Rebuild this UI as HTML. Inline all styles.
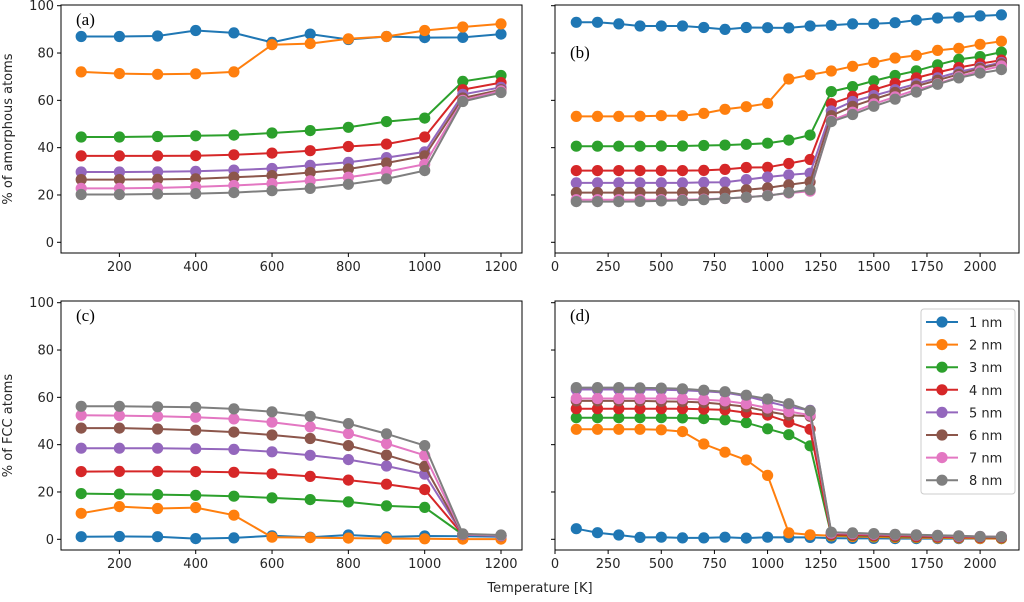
<!DOCTYPE html>
<html><head><meta charset="utf-8"><style>
html,body{margin:0;padding:0;background:#fff;}
svg{display:block;font-family:"DejaVu Sans","Liberation Sans",sans-serif;}
</style></head><body>
<svg id="fig" width="1024" height="602" viewBox="0 0 1024 602" xmlns="http://www.w3.org/2000/svg"></svg>
<script>
const colors=['#1f77b4','#ff7f0e','#2ca02c','#d62728','#9467bd','#8c564b','#e377c2','#7f7f7f'];
const seriesNames=['1 nm','2 nm','3 nm','4 nm','5 nm','6 nm','7 nm','8 nm'];
const tempsAC=[100,200,300,400,500,600,700,800,900,1000,1100,1200];
const tempsBD=[100,200,300,400,500,600,700,800,900,1000,1100,1200,1300,1400,1500,1600,1700,1800,1900,2000,2100];
const ticksAC=[200,400,600,800,1000,1200];
const ticksBD=[0,250,500,750,1000,1250,1500,1750,2000];
const ticksY=[0,20,40,60,80,100];
const amorphA=[
[87,87,87.2,89.5,88.5,84.5,88,85.7,87,86.5,86.6,88],
[72,71.3,71,71.2,72,83.5,84,86,87,89.5,91,92.3],
[44.5,44.5,44.7,45,45.3,46.2,47.2,48.6,51,52.5,68,70.5],
[36.5,36.5,36.5,36.6,37,37.7,38.7,40.5,41.5,44.5,64.5,67.5],
[29.7,29.7,29.8,30,30.5,31.2,32.5,33.8,35.8,38.2,62.5,65.5],
[26.5,26.5,26.6,26.8,27.5,28.2,29.5,31,33.5,36.5,61,64.5],
[22.8,22.8,23,23.4,24,24.8,26,27.5,29.8,33,60,64],
[20.2,20.2,20.4,20.6,21,21.8,22.8,24.5,26.8,30.3,59.5,63.3]];
const amorphB=[
[93,93,92.3,91.4,91.4,91.4,90.8,90,90.8,90.7,90.6,91.4,91.7,92.3,92.4,92.8,93.9,94.8,95.2,95.7,96.1],
[53.2,53.2,53.2,53.3,53.5,53.5,54.5,56.2,57.3,58.7,69,70.8,72.4,74.4,76,77.9,79,81.1,82,83.7,85],
[40.6,40.6,40.6,40.6,40.7,40.7,40.9,41.1,41.4,41.9,43.2,45.3,63.7,65.8,68.2,70.5,72.5,75,77.3,78.5,80.4],
[30.3,30.3,30.3,30.3,30.3,30.3,30.4,30.8,31.6,31.7,33.3,35,58.6,61.7,64.5,67.2,69.5,71.8,73.9,75.5,77],
[25.1,25.1,25.1,25.1,25.1,25.1,25.3,25.4,26.5,27.6,28.5,29.2,55.5,59.5,62,64.5,67,69.5,72,74,76],
[21,21,21,21,21,21,21.1,21.2,22.2,23,24.3,25.5,53.5,57.5,60.5,63.3,66,68.5,71,73.5,75.5],
[18,18,18,18,18,18,18.2,18.5,19,19.8,20.8,21.6,51.5,55,58.5,61.5,64.5,67,70,72.5,74.5],
[17.2,17.2,17.2,17.3,17.5,17.7,18,18.5,19,19.7,21,22.2,51,54,57.5,60.5,63.5,66.8,69.5,71.5,73]];
const fccC=[
[1.1,1.2,1.1,0.3,0.6,1.5,0.9,1.8,1,1.4,1.3,1.1],
[11,13.8,13,13.4,10.2,0.9,0.7,0.5,0.3,0.2,0.1,0.1],
[19.3,19.1,18.9,18.6,18.2,17.5,16.8,15.8,14.1,13.5,2,1.5],
[28.6,28.7,28.7,28.6,28.3,27.7,26.6,25,23.3,21,2,1.5],
[38.5,38.5,38.5,38.3,38,37,35.5,33.7,31,27.5,2,1.5],
[47,47,46.6,46.1,45.3,44.1,42.6,39.6,35.6,30.8,2.2,1.6],
[52.4,52.3,52,51.6,50.9,49.5,47.5,44.7,40.5,35.5,2.2,1.6],
[56.2,56.2,56,55.8,55.1,53.9,52,48.9,44.6,39.6,2.3,1.8]];
const fccD=[
[4.5,2.8,1.8,0.8,0.9,0.6,0.6,0.9,0.5,0.9,0.8,0.8,0.5,0.4,0.4,0.3,0.3,0.3,0.3,0.3,0.3],
[46.5,46.5,46.5,46.5,46.3,45.5,40.3,36.8,33.5,27,2.7,1.9,1.5,1.2,1,0.8,0.7,0.6,0.5,0.4,0.3],
[51.4,51.4,51.4,51.4,51.4,51.3,51,50.5,49.3,46.7,44.2,39.5,1.8,1.6,1.4,1.2,1,0.9,0.8,0.7,0.6],
[55.2,55.2,55.2,55.2,55.2,55.2,55,54.7,53.5,52.5,49.5,46.5,2,1.8,1.6,1.4,1.2,1,0.9,0.8,0.7],
[63.3,63.3,63.3,63.3,63.2,63,62.6,62,60.5,58.2,56,54.5,2.5,2.3,2,1.8,1.6,1.4,1.2,1.1,1],
[58.5,58.5,58.5,58.5,58.3,58.2,57.8,57,56,54,52.5,52,2.6,2.4,2.1,1.9,1.7,1.5,1.3,1.1,1],
[59.5,59.5,59.5,59.5,59.5,59.4,59,58.5,57.3,55.5,54,52.5,2.7,2.5,2.2,2,1.8,1.6,1.4,1.2,1.1],
[64.1,64.1,64.1,64,63.9,63.6,63,62.4,60.9,59.3,57.3,54.3,3,2.7,2.4,2.1,1.9,1.7,1.5,1.2,1.1]];

const NS='http://www.w3.org/2000/svg';
const svg=document.getElementById('fig');
function mk(tag,attrs,parent){const e=document.createElementNS(NS,tag);for(const k in attrs)e.setAttribute(k,attrs[k]);(parent||svg).appendChild(e);return e;}

const panels=[
 {id:'a',L:61,R:522,T:5,B:253,x0:47,x1:1255,y0:242.3,temps:tempsAC,ticks:ticksAC,data:amorphA,yl:true,ylabel:'% of amorphous atoms'},
 {id:'b',L:555,R:1019,T:5,B:253,x0:0,x1:2183,y0:242.3,temps:tempsBD,ticks:ticksBD,data:amorphB,yl:false},
 {id:'c',L:61,R:522,T:301,B:550,x0:47,x1:1255,y0:539.3,temps:tempsAC,ticks:ticksAC,data:fccC,yl:true,ylabel:'% of FCC atoms'},
 {id:'d',L:555,R:1019,T:301,B:550,x0:0,x1:2183,y0:539.3,temps:tempsBD,ticks:ticksBD,data:fccD,yl:false}];

panels.forEach(p=>{
 const g=mk('g',{});
 
 
 const xs=v=>p.L+(v-p.x0)/(p.x1-p.x0)*(p.R-p.L);
 const ys=v=>p.y0-v*2.366;
 p.data.forEach((ser,si)=>{
  const pts=ser.map((v,i)=>xs(p.temps[i]).toFixed(1)+','+ys(v).toFixed(1)).join(' ');
  const line=mk('polyline',{points:pts,fill:'none',stroke:colors[si],'stroke-width':2},g);
  
  
  ser.forEach((v,i)=>{
   const c=mk('circle',{cx:xs(p.temps[i]).toFixed(1),cy:ys(v).toFixed(1),r:5.6,fill:colors[si]},g);
   
   
  });
 });
 const fr=mk('rect',{x:p.L,y:p.T,width:p.R-p.L,height:p.B-p.T,fill:'none',stroke:'#000','stroke-width':1},g);
 
 
 p.ticks.forEach(t=>{
  const x=xs(t);
  mk('line',{x1:x,x2:x,y1:p.B,y2:p.B+4,stroke:'#000'},g);
  const tx=mk('text',{x:x,y:p.B+18,'font-size':13,'text-anchor':'middle',fill:'#262626'},g);
  tx.textContent=t;
  
  
 });
 ticksY.forEach(t=>{
  const y=ys(t);
  mk('line',{x1:p.L-4,x2:p.L,y1:y,y2:y,stroke:'#000'},g);
  if(p.yl){
   const tx=mk('text',{x:p.L-7,y:y+4.5,'font-size':13,'text-anchor':'end',fill:'#262626'},g);
   tx.textContent=t;
   
   
  }
 });
 const lab=mk('text',{x:p.L+15,y:p.T+(p.id==='b'?53:20),'font-size':17,'font-family':'Liberation Serif, DejaVu Serif, serif',fill:'#000'},g);
 lab.textContent='('+p.id+')';
 
 
 if(p.ylabel){
  const cy=(p.T+p.B)/2;
  const yt=mk('text',{x:12,y:cy,'font-size':13,'text-anchor':'middle',fill:'#262626',transform:'rotate(-90 12 '+cy+')'},g);
  yt.textContent=p.ylabel;
  
  
 }
});
const xt=mk('text',{x:540,y:592,'font-size':13,'text-anchor':'middle',fill:'#262626'});
xt.textContent='Temperature [K]';



const lg=mk('g',{});


mk('rect',{x:921,y:309,width:94,height:185,rx:3,fill:'#fff',stroke:'#ccc'},lg);
seriesNames.forEach((n,i)=>{
 const y=322+i*22.6;
 const e=mk('g',{},lg);
 
 
 mk('line',{x1:926,x2:958,y1:y,y2:y,stroke:colors[i],'stroke-width':2},e);
 mk('circle',{cx:942,cy:y,r:5.6,fill:colors[i]},e);
 const t=mk('text',{x:969,y:y+5,'font-size':13,fill:'#262626'},e);
 t.textContent=n;
});
</script>
</body></html>
